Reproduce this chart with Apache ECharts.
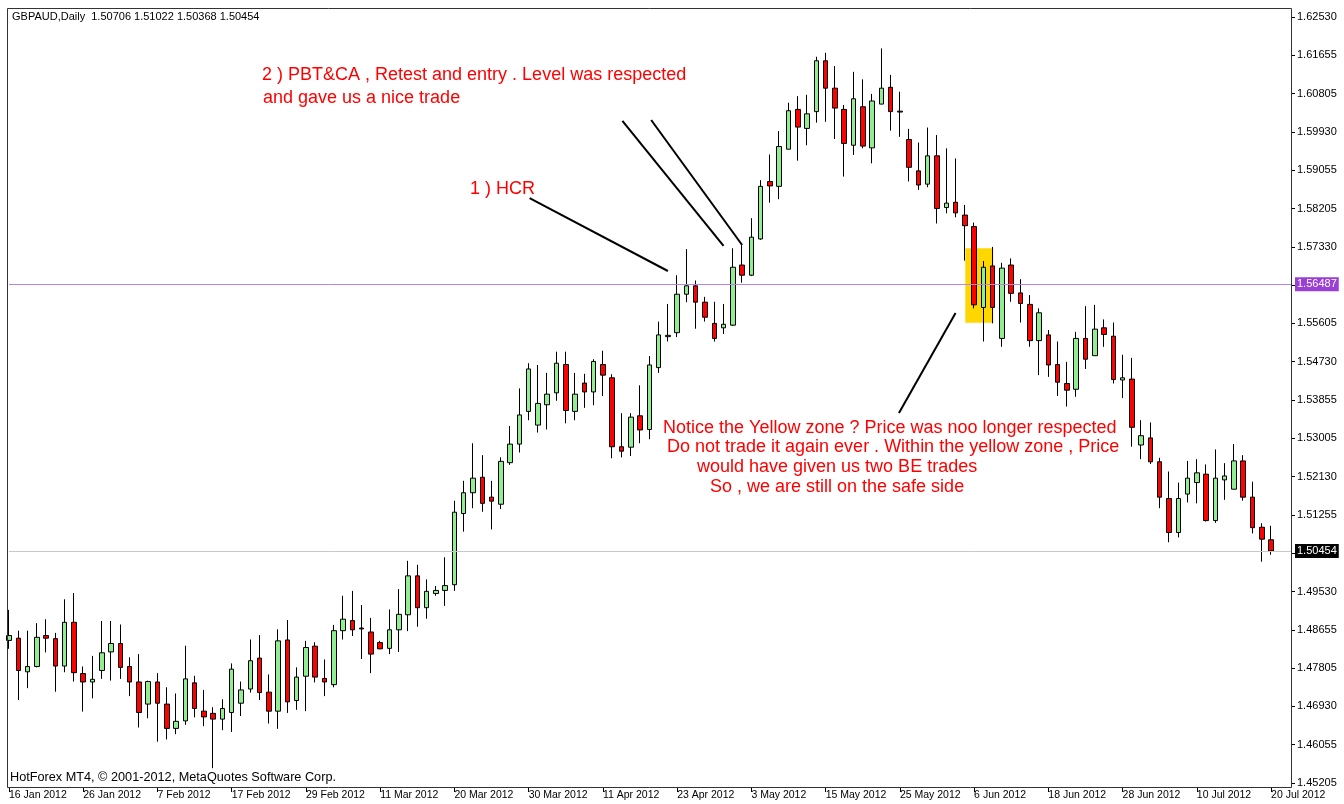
<!DOCTYPE html>
<html>
<head>
<meta charset="utf-8">
<script src="https://cdn.jsdelivr.net/npm/echarts@6/dist/echarts.min.js"></script>
<style>
html,body{margin:0;padding:0;background:#fff;}
#chart{width:1344px;height:804px;}
</style>
</head>
<body>
<div id="chart"></div>
<script>
// ---- Data (GBPAUD daily, one bar per trading day) ----
const open = [1.4843,1.4848,1.4772,1.4784,1.4854,1.4847,1.4785,1.4884,1.4768,1.4749,
1.4775,1.4817,1.4836,1.4784,1.4749,1.4699,1.4749,1.4699,1.4644,1.4661,
1.4747,1.4683,1.4678,1.4665,1.4680,1.4701,1.4733,1.4803,1.4726,1.4683,
1.4844,1.4707,1.4762,1.4830,1.4757,1.4743,1.4865,1.4888,1.4871,1.4862,
1.4838,1.4825,1.4867,1.4901,1.4989,1.4917,1.4949,1.4956,1.4969,1.5130,
1.5177,1.5212,1.5167,1.5151,1.5245,1.5287,1.5361,1.5330,1.5376,1.5403,
1.5467,1.5361,1.5425,1.5405,1.5467,1.5437,1.5281,1.5280,1.5351,1.5320,
1.5460,1.5530,1.5539,1.5626,1.5645,1.5608,1.5560,1.5550,1.5556,1.5692,
1.5669,1.5751,1.5881,1.5870,1.5954,1.6044,1.6001,1.6039,1.6154,1.6092,
1.6044,1.5963,1.6050,1.5957,1.6056,1.6094,1.6040,1.5976,1.5905,1.5875,
1.5939,1.5822,1.5834,1.5805,1.5779,1.5596,1.5690,1.5526,1.5692,1.5629,
1.5603,1.5521,1.5534,1.5467,1.5424,1.5411,1.5526,1.5487,1.5550,1.5531,
1.5432,1.5434,1.5285,1.5301,1.5247,1.5164,1.5087,1.5174,1.5200,1.5219,
1.5114,1.5206,1.5185,1.5249,1.5167,1.5099,1.50706];
const close = [1.4854,1.4775,1.4784,1.4850,1.4848,1.4785,1.4884,1.4770,1.4749,1.4755,
1.4815,1.4836,1.4782,1.4749,1.4680,1.4750,1.4701,1.4644,1.4660,1.4756,
1.4689,1.4670,1.4665,1.4689,1.4778,1.4731,1.4797,1.4725,1.4683,1.4842,
1.4704,1.4760,1.4827,1.4760,1.4749,1.4865,1.4891,1.4867,1.4869,1.4812,
1.4824,1.4867,1.4902,1.4989,1.4917,1.4954,1.4956,1.4967,1.5133,1.5177,
1.5210,1.5153,1.5158,1.5248,1.5287,1.5353,1.5457,1.5379,1.5400,1.5470,
1.5363,1.5400,1.5405,1.5474,1.5443,1.5281,1.5271,1.5348,1.5319,1.5466,
1.5534,1.5533,1.5626,1.5645,1.5608,1.5574,1.5526,1.5558,1.5687,1.5669,
1.5755,1.5870,1.5871,1.5960,1.6041,1.6004,1.6034,1.6154,1.6092,1.6047,
1.5967,1.6068,1.5961,1.6063,1.6092,1.6039,1.6038,1.5913,1.5873,1.5939,
1.5820,1.5832,1.5810,1.5781,1.5602,1.5687,1.5596,1.5685,1.5628,1.5605,
1.5521,1.5584,1.5466,1.5427,1.5409,1.5526,1.5479,1.5547,1.5535,1.5433,
1.5437,1.5325,1.5306,1.5247,1.5167,1.5087,1.5164,1.5210,1.5222,1.5114,
1.5210,1.5215,1.5249,1.5167,1.5098,1.5072,1.50454];
const low = [1.4824,1.4708,1.4735,1.4782,1.4816,1.4727,1.4771,1.4750,1.4682,1.4712,
1.4756,1.4752,1.4756,1.4717,1.4646,1.4667,1.4614,1.4619,1.4631,1.4652,
1.4669,1.4649,1.4554,1.4640,1.4636,1.4672,1.4725,1.4708,1.4655,1.4643,
1.4679,1.4686,1.4683,1.4748,1.4717,1.4737,1.4845,1.4853,1.4801,1.4769,
1.4823,1.4812,1.4817,1.4864,1.4874,1.4892,1.4944,1.4921,1.4955,1.5089,
1.5142,1.5134,1.5094,1.5140,1.5240,1.5268,1.5341,1.5313,1.5320,1.5385,
1.5334,1.5341,1.5369,1.5375,1.5396,1.5255,1.5257,1.5260,1.5289,1.5298,
1.5448,1.5519,1.5529,1.5608,1.5548,1.5564,1.5519,1.5536,1.5554,1.5652,
1.5667,1.5749,1.5833,1.5841,1.5954,1.5928,1.5963,1.6014,1.6016,1.5977,
1.5892,1.5941,1.5956,1.5922,1.6056,1.5996,1.5982,1.5881,1.5862,1.5868,
1.5786,1.5809,1.5800,1.5702,1.5594,1.5519,1.5560,1.5507,1.5609,1.5562,
1.5507,1.5443,1.5439,1.5396,1.5372,1.5394,1.5457,1.5487,1.5507,1.5424,
1.5391,1.5281,1.5253,1.5242,1.5142,1.5065,1.5076,1.5155,1.5153,1.5112,
1.5109,1.5161,1.5185,1.5159,1.5085,1.5021,1.50368];
const high = [1.4912,1.4865,1.4865,1.4882,1.4891,1.4860,1.4936,1.4950,1.4784,1.4808,
1.4887,1.4887,1.4879,1.4805,1.4812,1.4752,1.4769,1.4737,1.4723,1.4831,
1.4763,1.4731,1.4692,1.4710,1.4791,1.4750,1.4845,1.4855,1.4766,1.4868,
1.4889,1.4782,1.4842,1.4839,1.4800,1.4878,1.4944,1.4955,1.4923,1.4894,
1.4842,1.4913,1.4959,1.5023,1.5014,1.4981,1.4966,1.5031,1.5159,1.5204,
1.5289,1.5262,1.5204,1.5257,1.5328,1.5413,1.5470,1.5466,1.5448,1.5496,
1.5496,1.5448,1.5446,1.5479,1.5498,1.5445,1.5357,1.5357,1.5420,1.5486,
1.5564,1.5604,1.5669,1.5728,1.5657,1.5620,1.5609,1.5604,1.5730,1.5737,
1.5798,1.5884,1.5942,1.5995,1.6059,1.6074,1.6077,1.6163,1.6172,1.6142,
1.6054,1.6129,1.6112,1.6079,1.6182,1.6122,1.6084,1.6000,1.5969,1.6003,
1.5986,1.5956,1.5933,1.5828,1.5788,1.5701,1.5733,1.5697,1.5707,1.5660,
1.5624,1.5594,1.5545,1.5519,1.5473,1.5541,1.5599,1.5602,1.5569,1.5562,
1.5489,1.5482,1.5341,1.5336,1.5256,1.5225,1.5200,1.5249,1.5253,1.5241,
1.5275,1.5244,1.5287,1.5262,1.5202,1.5108,1.51022];

// Date labels shown under every 8th bar
const xTickLabels = ['16 Jan 2012','26 Jan 2012','7 Feb 2012','17 Feb 2012','29 Feb 2012',
'11 Mar 2012','20 Mar 2012','30 Mar 2012','11 Apr 2012','23 Apr 2012','3 May 2012',
'15 May 2012','25 May 2012','6 Jun 2012','18 Jun 2012','28 Jun 2012','10 Jul 2012','20 Jul 2012'];
const xTickEvery = 8;

// Price scale labels (bottom to top); the two blanks are covered by the highlighted labels
const yTickLabels = ['1.45205','1.46055','1.46930','1.47805','1.48655','1.49530','',
'1.51255','1.52130','1.53005','1.53855','1.54730','1.55605','','1.57330',
'1.58205','1.59055','1.59930','1.60805','1.61655','1.62530'];
const yMin = 1.45205, yMax = 1.62530;

// Horizontal levels
const levelLine = 1.56487;   // drawn level (purple)
const bidLine = 1.50454;     // last price (grey)

// Annotation geometry in data units: [barIndex, price]
const trendLines = [
  [[56.1, 1.58436], [71.0, 1.56785]],
  [[66.1, 1.60178], [77.0, 1.57351]],
  [[69.2, 1.60200], [79.0, 1.57373]],
  [[95.9, 1.53573], [102.0, 1.55835]]
];
const yellowZone = [[103.05, 1.57299], [106.07, 1.55616]];

const headerText = 'GBPAUD,Daily  1.50706 1.51022 1.50368 1.50454';
const footerText = 'HotForex MT4, \u00A9 2001-2012, MetaQuotes Software Corp.';
const notes = [
  {text: '2 ) PBT&CA , Retest and entry . Level was respected', x: 262, y: 75},
  {text: 'and gave us a nice trade', x: 263, y: 98},
  {text: '1 ) HCR', x: 470, y: 189},
  {text: 'Notice the Yellow zone ? Price was noo longer respected', x: 663, y: 428},
  {text: 'Do not trade it again ever . Within the yellow zone , Price', x: 667, y: 447},
  {text: 'would have given us two BE trades', x: 697, y: 467},
  {text: 'So , we are still on the safe side', x: 710, y: 487}
];

// ---- Build ----
const FONT = '"Liberation Sans", Arial, sans-serif';
const yStep = (yMax - yMin) / (yTickLabels.length - 1);
const barData = open.map((o, i) => [i, o, close[i], low[i], high[i]]);
const plotLeft = 9, plotRight = 53, plotTop = 17, plotBottom = 21;
const barSpacing = 9.28;
const xMax = (1344 - plotLeft - plotRight) / barSpacing;

const chart = echarts.init(document.getElementById('chart'), null, {renderer: 'canvas'});

const markLines = [
  {yAxis: levelLine, lineStyle: {color: '#b684e6', width: 1, type: 'solid'},
   label: {show: true, position: 'end', formatter: levelLine.toFixed(5), distance: 4,
     color: '#fff', backgroundColor: '#9a3fd6', padding: [2, 2, 1, 2], fontSize: 11, fontFamily: FONT}},
  {yAxis: bidLine, lineStyle: {color: '#c8c8c8', width: 1, type: 'solid'},
   label: {show: true, position: 'end', formatter: bidLine.toFixed(5), distance: 4,
     color: '#fff', backgroundColor: '#000', padding: [2, 2, 1, 2], fontSize: 11, fontFamily: FONT}}
];
trendLines.forEach(l => {
  markLines.push([
    {coord: l[0], lineStyle: {color: '#000', width: 2, type: 'solid'}, label: {show: false}},
    {coord: l[1]}
  ]);
});

const graphics = [
  {type: 'rect', silent: true, z: 100,
   shape: {x: 7.5, y: 8.5, width: 1284, height: 779},
   style: {fill: null, stroke: '#333', lineWidth: 1}},
  {type: 'text', silent: true, z: 100, x: 12, y: 17,
   style: {text: headerText, fill: '#000', font: '11px ' + FONT, verticalAlign: 'middle'}},
  {type: 'text', silent: true, z: 100, x: 10, y: 777,
   style: {text: footerText, fill: '#000', font: '12.7px ' + FONT, verticalAlign: 'middle'}}
];
notes.forEach(n => graphics.push({
  type: 'text', silent: true, z: 100, x: n.x, y: n.y,
  style: {text: n.text, fill: '#ff0000', font: '18px ' + FONT, verticalAlign: 'middle'}
}));

const option = {
  animation: false,
  backgroundColor: '#ffffff',
  grid: {left: plotLeft, right: plotRight, top: plotTop, bottom: plotBottom, containLabel: false},
  xAxis: {
    type: 'value', min: 0, max: xMax, interval: xTickEvery, offset: 4,
    axisLine: {show: false, onZero: false},
    axisTick: {show: true, length: 5, lineStyle: {color: '#000'}},
    axisLabel: {
      show: true, margin: 3, align: 'left', padding: [0, 0, 0, 0],
      color: '#000', fontSize: 10.5, fontFamily: FONT, showMaxLabel: false,
      formatter: v => {
        const k = Math.round(v / xTickEvery);
        return (Math.abs(v - k * xTickEvery) < 1e-6 && xTickLabels[k]) ? xTickLabels[k] : '';
      }
    },
    splitLine: {show: false}
  },
  yAxis: {
    type: 'value', position: 'right', min: yMin, max: yMax, interval: yStep, scale: true,
    axisLine: {show: false, onZero: false},
    axisTick: {show: true, length: 4, lineStyle: {color: '#000'}},
    axisLabel: {
      show: true, margin: 6, color: '#000', fontSize: 11, fontFamily: FONT,
      formatter: v => {
        const k = Math.round((v - yMin) / yStep);
        return yTickLabels[k] !== undefined ? yTickLabels[k] : '';
      }
    },
    splitLine: {show: false}
  },
  series: [{
    type: 'candlestick',
    data: barData,
    encode: {x: 0, y: [1, 2, 3, 4]},
    barWidth: 5,
    clip: false,
    silent: true,
    itemStyle: {
      color: '#90ee90', color0: '#ff0000',
      borderColor: '#000', borderColor0: '#000', borderColorDoji: '#000', borderWidth: 1
    },
    markArea: {
      silent: true,
      itemStyle: {color: '#ffd700', opacity: 1},
      data: [[{coord: yellowZone[0]}, {coord: yellowZone[1]}]]
    },
    markLine: {
      silent: true,
      symbol: ['none', 'none'],
      precision: 5,
      animation: false,
      data: markLines
    }
  }],
  graphic: graphics
};
chart.setOption(option);
</script>
</body>
</html>
